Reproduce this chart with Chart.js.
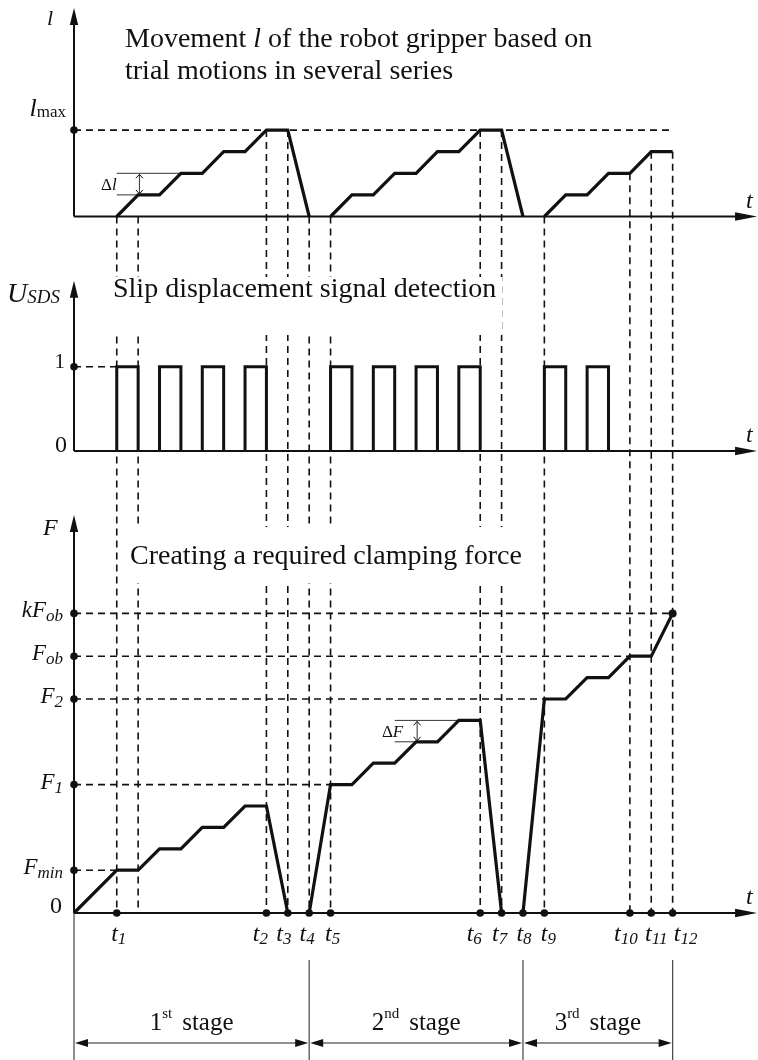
<!DOCTYPE html>
<html>
<head>
<meta charset="utf-8">
<title>Gripper movement, slip signal and clamping force</title>
<script src="https://cdn.jsdelivr.net/npm/chart.js@4/dist/chart.umd.min.js"></script>
<style>
  html, body { margin: 0; padding: 0; background: #fff; }
  canvas { display: block; }
</style>
</head>
<body>
<canvas id="diagram" width="758" height="1060"></canvas>
<script>
// ---------- data (time in steps, values in steps of Δl / ΔF) ----------

// gripper movement l over three series of trial motions
const lTime1 = [2, 3, 4, 5, 6, 7, 8, 9, 10, 11];
const lVal1  = [0, 1, 1, 2, 2, 3, 3, 4, 4, 0];
const lTime2 = [12, 13, 14, 15, 16, 17, 18, 19, 20, 21];
const lVal2  = [0, 1, 1, 2, 2, 3, 3, 4, 4, 0];
const lTime3 = [22, 23, 24, 25, 26, 27, 28];
const lVal3  = [0, 1, 1, 2, 2, 3, 3];
const lMax = 4;

// slip displacement signal: start of each unit pulse
const pulseStart = [2, 4, 6, 8, 12, 14, 16, 18, 22, 24];
const pulseWidth = 1;
const pulseHigh = 1;

// clamping force F
const fTime1 = [0, 2, 3, 4, 5, 6, 7, 8, 9, 10];
const fVal1  = [0, 2, 2, 3, 3, 4, 4, 5, 5, 0];
const fTime2 = [11, 12, 13, 14, 15, 16, 17, 18, 19, 20];
const fVal2  = [0, 6, 6, 7, 7, 8, 8, 9, 9, 0];
const fTime3 = [21, 22, 23, 24, 25, 26, 27, 28];
const fVal3  = [0, 10, 10, 11, 11, 12, 12, 14];

// force levels on the F axis and where each guide line ends
const fLevelValue = [2, 6, 10, 12, 14];
const fLevelLabel = ['F_min', 'F_1', 'F_2', 'F_ob', 'kF_ob'];
const fLevelEnd   = [2, 12, 22, 26, 28];

// time marks t1..t12
const tMarkTime  = [2, 9, 10, 11, 12, 19, 20, 21, 22, 26, 27, 28];
const tMarkLabel = ['1', '2', '3', '4', '5', '6', '7', '8', '9', '10', '11', '12'];

// dashed time guides: time and the l level they start from
const guideTime = [2, 3, 9, 10, 11, 12, 19, 20, 22, 26, 27, 28];
const guideFrom = [0, 0, 4, 4, 0, 0, 4, 4, 0, 2, 3, 3];

// step size markers (Δl, ΔF)
const stepMarks = [
  { axis: 'yL', name: 'l', from: 2, lo: 1, hi: 2, loEnd: 3, hiEnd: 5, at: 3.06, labelEnd: 2 },
  { axis: 'yF', name: 'F', from: 15, lo: 8, hi: 9, loEnd: 16, hiEnd: 18, at: 16.05, labelEnd: 15.4 }
];

// stages
const stageBounds = [0, 11, 21, 28];
const stageNum    = ['1', '2', '3'];
const stageSuffix = ['st', 'nd', 'rd'];

// ---------- layout of the canvas ----------
const W = 758, H = 1060;
const xZero = 74, xUnit = 21.38;
const panelL = { zero: 216.5, unit: 21.6 };
const panelU = { zero: 451, unit: 84.3 };
const panelF = { zero: 913, unit: 21.4 };

const INK = '#111';
const SERIF = '"Liberation Serif", "Times New Roman", serif';

function yAxis(p) {
  return { type: 'linear', display: false, bounds: 'data',
           min: -(H - p.zero) / p.unit, max: p.zero / p.unit };
}
function points(ts, vs) { return ts.map((t, i) => ({ x: t, y: vs[i] })); }
function pulsePoints() {
  const out = [];
  for (const s of pulseStart) {
    out.push({ x: s, y: 0 }, { x: s, y: pulseHigh },
             { x: s + pulseWidth, y: pulseHigh }, { x: s + pulseWidth, y: 0 },
             { x: s + pulseWidth, y: null });
  }
  return out;
}
function curve(ts, vs, axis) {
  return { data: points(ts, vs), yAxisID: axis, borderColor: INK, borderWidth: 3.2,
           pointRadius: 0, fill: false, tension: 0, borderJoinStyle: 'miter' };
}

// ---------- drawing helpers ----------
function font(size, italic) { return (italic ? 'italic ' : '') + size + 'px ' + SERIF; }
function richWidth(ctx, parts) {
  let w = 0;
  for (const p of parts) { ctx.font = font(p.size, p.italic); w += ctx.measureText(p.text).width + (p.gap || 0); }
  return w;
}
function drawRich(ctx, x, y, parts, align) {
  const w = richWidth(ctx, parts);
  let cx = align === 'right' ? x - w : align === 'center' ? x - w / 2 : x;
  ctx.textAlign = 'left';
  ctx.textBaseline = 'alphabetic';
  ctx.fillStyle = INK;
  for (const p of parts) {
    ctx.font = font(p.size, p.italic);
    ctx.fillText(p.text, cx, y + (p.dy || 0));
    cx += ctx.measureText(p.text).width + (p.gap || 0);
  }
  return w;
}
function line(ctx, x1, y1, x2, y2, width, dash, color) {
  ctx.save();
  ctx.beginPath();
  ctx.strokeStyle = color || INK;
  ctx.lineWidth = width;
  ctx.setLineDash(dash || []);
  ctx.moveTo(x1, y1);
  ctx.lineTo(x2, y2);
  ctx.stroke();
  ctx.restore();
}
function arrowHead(ctx, tx, ty, dx, dy, len, half) {
  // filled triangle with its tip at (tx,ty) pointing along (dx,dy)
  const bx = tx - dx * len, by = ty - dy * len;
  ctx.beginPath();
  ctx.moveTo(tx, ty);
  ctx.lineTo(bx - dy * half, by + dx * half);
  ctx.lineTo(bx + dy * half, by - dx * half);
  ctx.closePath();
  ctx.fillStyle = INK;
  ctx.fill();
}
function dot(ctx, x, y, r) {
  ctx.beginPath();
  ctx.arc(x, y, r, 0, Math.PI * 2);
  ctx.fillStyle = INK;
  ctx.fill();
}
function chevron(ctx, x, y, dir) {
  ctx.beginPath();
  ctx.moveTo(x - 3.5, y + dir * 4);
  ctx.lineTo(x, y);
  ctx.lineTo(x + 3.5, y + dir * 4);
  ctx.strokeStyle = INK;
  ctx.lineWidth = 1;
  ctx.stroke();
}
function splitLabel(s, size, subSize, subDy) {
  const [main, sub] = s.split('_');
  const parts = [{ text: main, size, italic: true }];
  if (sub) parts.push({ text: sub, size: subSize, italic: true, dy: subDy });
  return parts;
}

// panel titles: text, position, and the white band they sit on
const titles = [
  { lines: [[{ text: 'Movement ', size: 28 }, { text: 'l', size: 28, italic: true },
             { text: ' of the robot gripper based on', size: 28 }],
            [{ text: 'trial motions in several series', size: 28 }]],
    x: 125, y: 47, lead: 32, band: null },
  { lines: [[{ text: 'Slip displacement signal detection', size: 28 }]],
    x: 113, y: 297, lead: 32, band: [-20, 38] },
  { lines: [[{ text: 'Creating a required clamping force', size: 28 }]],
    x: 130, y: 564, lead: 32, band: [-37, 19] }
];
const tLabelShift = [2, -6, -4, -2, 2, -6, -2, 1, 4, -4, 5, 13];

const diagramPlugin = {
  id: 'timingDiagram',
  beforeDatasetsDraw(chart) {
    const { ctx } = chart;
    const { x, yL, yU, yF } = chart.scales;
    const x0 = x.getPixelForValue(0);
    const fBase = yF.getPixelForValue(0);

    // dashed time guides through all three panels
    guideTime.forEach((t, i) => {
      const px = x.getPixelForValue(t);
      line(ctx, px, yL.getPixelForValue(guideFrom[i]), px, fBase, 1.6, [7, 5]);
    });
    // dashed level guides
    const lm = yL.getPixelForValue(lMax);
    line(ctx, x0, lm, x.getPixelForValue(lTime3[lTime3.length - 1]), lm, 1.6, [7, 5]);
    const u1 = yU.getPixelForValue(pulseHigh);
    line(ctx, x0, u1, x.getPixelForValue(pulseStart[0]), u1, 1.6, [7, 5]);
    fLevelValue.forEach((v, i) => {
      const py = yF.getPixelForValue(v);
      line(ctx, x0, py, x.getPixelForValue(fLevelEnd[i]), py, 1.6, [7, 5]);
    });

    // titles
    for (const tt of titles) {
      if (tt.band) {
        const w = richWidth(ctx, tt.lines[0]);
        ctx.fillStyle = '#fff';
        ctx.fillRect(tt.x - 6, tt.y + tt.band[0], w + 12, tt.band[1] - tt.band[0]);
      }
      tt.lines.forEach((ln, k) => drawRich(ctx, tt.x, tt.y + k * tt.lead, ln, 'left'));
    }

    // step size markers
    for (const m of stepMarks) {
      const ys = chart.scales[m.axis];
      const yLo = ys.getPixelForValue(m.lo), yHi = ys.getPixelForValue(m.hi);
      const xs = x.getPixelForValue(m.from);
      line(ctx, xs, yHi, x.getPixelForValue(m.hiEnd), yHi, 1, null, '#333');
      line(ctx, xs, yLo, x.getPixelForValue(m.loEnd), yLo, 1, null, '#333');
      const xa = x.getPixelForValue(m.at);
      line(ctx, xa, yHi + 1, xa, yLo - 1, 1, null, '#333');
      chevron(ctx, xa, yHi + 1, 1);
      chevron(ctx, xa, yLo - 1, -1);
      drawRich(ctx, x.getPixelForValue(m.labelEnd), (yLo + yHi) / 2 + 6,
               [{ text: 'Δ', size: 17 }, { text: m.name, size: 17, italic: true }], 'right');
    }

    // axes
    const xEnd = x.getPixelForValue(31.95);
    const axes = [
      { s: yL, top: 9.65 }, { s: yU, top: 2.02 }, { s: yF, top: 18.6 }
    ];
    for (const a of axes) {
      const base = a.s.getPixelForValue(0);
      const tip = a.s.getPixelForValue(a.top);
      line(ctx, x0, base + (a.s === yF ? 0 : 0), x0, tip + 10, 2);
      arrowHead(ctx, x0, tip, 0, -1, 17, 4.2);
      line(ctx, x0, base, xEnd - 12, base, 2);
      arrowHead(ctx, xEnd, base, 1, 0, 22, 4.2);
      drawRich(ctx, xEnd - 11, base - 9, [{ text: 't', size: 24, italic: true }], 'left');
    }
    // axis continues down past the F baseline into the stage scale
    line(ctx, x0, fBase, x0, H, 1.2, null, '#444');
  },

  afterDatasetsDraw(chart) {
    const { ctx } = chart;
    const { x, yL, yU, yF } = chart.scales;
    const x0 = x.getPixelForValue(0);
    const fBase = yF.getPixelForValue(0);

    // axis names
    drawRich(ctx, 47, 25, [{ text: 'l', size: 22, italic: true }], 'left');
    drawRich(ctx, 7, yU.getPixelForValue(2.02) + 21,
             [{ text: 'U', size: 28, italic: true }, { text: 'SDS', size: 19, italic: true, dy: 1 }], 'left');
    drawRich(ctx, 43, yF.getPixelForValue(18.6) + 20, [{ text: 'F', size: 24, italic: true }], 'left');

    // level labels and their dots on the axes
    const lm = yL.getPixelForValue(lMax);
    drawRich(ctx, 66, lm - 14, [{ text: 'l', size: 26, italic: true }, { text: 'max', size: 17, dy: 1 }], 'right');
    dot(ctx, x0, lm, 3.8);

    const u1 = yU.getPixelForValue(pulseHigh);
    drawRich(ctx, 65, u1 + 1.5, [{ text: '1', size: 21 }], 'right');
    drawRich(ctx, 67, yU.getPixelForValue(0) + 1, [{ text: '0', size: 24 }], 'right');
    dot(ctx, x0, u1, 3.8);

    fLevelValue.forEach((v, i) => {
      const py = yF.getPixelForValue(v);
      drawRich(ctx, 63, py + 4, splitLabel(fLevelLabel[i], 23, 17, 4), 'right');
      dot(ctx, x0, py, 3.8);
    });
    drawRich(ctx, 62, fBase, [{ text: '0', size: 24 }], 'right');

    // time marks
    tMarkTime.forEach((t, i) => {
      const px = x.getPixelForValue(t);
      dot(ctx, px, fBase, 3.8);
      drawRich(ctx, px + tLabelShift[i], fBase + 28,
               [{ text: 't', size: 24, italic: true }, { text: tMarkLabel[i], size: 17, italic: true, dy: 3 }],
               'center');
    });
    // end point of the force curve
    dot(ctx, x.getPixelForValue(fTime3[fTime3.length - 1]), yF.getPixelForValue(fVal3[fVal3.length - 1]), 4);

    // stages
    const arrowY = fBase + 130, textY = fBase + 117;
    stageBounds.slice(1).forEach(b => {
      const px = x.getPixelForValue(b);
      line(ctx, px, fBase + 47, px, H, 1.2, null, '#444');
    });
    for (let i = 0; i < stageNum.length; i++) {
      const xa = x.getPixelForValue(stageBounds[i]) + 1;
      const xb = x.getPixelForValue(stageBounds[i + 1]) - 1;
      line(ctx, xa + 8, arrowY, xb - 8, arrowY, 1.2, null, '#222');
      arrowHead(ctx, xa, arrowY, -1, 0, 13, 4);
      arrowHead(ctx, xb, arrowY, 1, 0, 13, 4);
      drawRich(ctx, (xa + xb) / 2, textY,
               [{ text: stageNum[i], size: 25 }, { text: stageSuffix[i], size: 15, dy: -12, gap: 10 },
                { text: 'stage', size: 25 }], 'center');
    }
  }
};

new Chart(document.getElementById('diagram'), {
  type: 'line',
  data: {
    datasets: [
      curve(lTime1, lVal1, 'yL'),
      curve(lTime2, lVal2, 'yL'),
      curve(lTime3, lVal3, 'yL'),
      { data: pulsePoints(), yAxisID: 'yU', borderColor: INK, borderWidth: 3,
        pointRadius: 0, fill: false, tension: 0, spanGaps: false },
      curve(fTime1, fVal1, 'yF'),
      curve(fTime2, fVal2, 'yF'),
      curve(fTime3, fVal3, 'yF')
    ]
  },
  options: {
    responsive: false,
    animation: false,
    events: [],
    layout: { padding: 0 },
    plugins: { legend: { display: false }, tooltip: { enabled: false }, title: { display: false } },
    scales: {
      x: { type: 'linear', display: false, bounds: 'data',
           min: -xZero / xUnit, max: (W - xZero) / xUnit },
      yL: yAxis(panelL),
      yU: yAxis(panelU),
      yF: yAxis(panelF)
    }
  },
  plugins: [diagramPlugin]
});
</script>
</body>
</html>
